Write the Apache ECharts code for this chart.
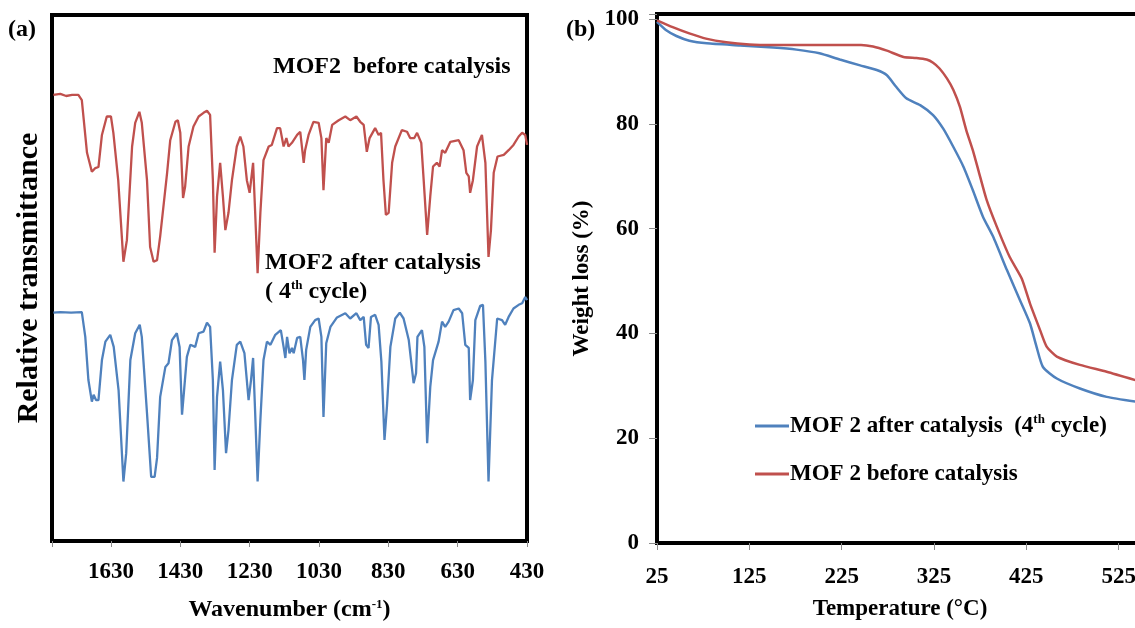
<!DOCTYPE html>
<html>
<head>
<meta charset="utf-8">
<script src="https://cdn.jsdelivr.net/npm/echarts@6/dist/echarts.min.js"></script>
<style>
  html, body { margin: 0; padding: 0; background: #fff; }
  #chart { width: 1135px; height: 628px; }
</style>
</head>
<body>
<div id="chart"></div>
<script>
const FONT = '"Liberation Serif", "Times New Roman", serif';
const RED = '#C0504D';
const BLUE = '#4F81BD';

// (a) FT-IR spectra: wavenumber (cm-1) and relative transmittance (arb. units)
const irWavenumberBefore = [1796,1776,1759,1742,1724,1719,1714,1699,1685,1675,1666,1656,1642,1630,1623,1609,1594,1584,1569,1560,1548,1541,1526,1517,1507,1497,1488,1468,1459,1444,1437,1430,1422,1416,1406,1392,1377,1363,1353,1344,1336,1331,1324,1315,1307,1300,1291,1281,1267,1257,1248,1238,1230,1220,1214,1207,1199,1190,1175,1166,1151,1142,1132,1124,1118,1108,1093,1084,1074,1070,1060,1046,1031,1023,1017,1009,1002,992,973,954,940,922,911,901,892,884,868,858,851,844,837,829,819,810,791,776,767,755,747,735,728,718,709,701,690,682,675,666,651,627,613,605,598,594,586,574,560,550,541,534,526,515,497,483,469,454,444,435,430];
const irTransBefore = [84.8,85.0,84.6,84.8,84.8,85.0,83.8,73.8,70.2,70.9,71.1,77.2,80.7,80.7,77.6,68.6,53.1,57.2,75.0,79.5,81.6,79.5,68.6,55.9,53.1,53.4,57.9,70.0,76.2,79.7,80.0,77.6,65.2,67.4,75.0,78.8,80.7,81.4,81.8,81.0,68.6,54.8,65.5,71.9,65.5,59.1,62.4,68.6,75.0,76.9,75.0,68.6,66.2,71.9,62.4,50.9,62.4,72.4,75.0,75.3,78.5,78.5,75.0,76.6,75.0,75.7,77.2,77.8,71.9,74.3,77.2,79.7,79.5,76.6,66.7,76.6,75.7,79.1,80.0,80.7,80.0,80.7,79.7,79.1,74.0,76.6,78.5,77.2,77.6,68.6,62.0,62.4,71.9,75.0,78.1,77.8,76.6,76.6,77.6,75.7,68.6,58.2,65.5,71.2,71.9,71.2,74.3,73.8,75.9,76.2,74.3,70.0,69.3,66.2,68.6,75.0,77.2,71.9,54.0,59.1,70.0,73.1,73.4,74.3,75.3,76.9,77.6,77.2,75.3];

const irWavenumberAfter = [1796,1776,1745,1714,1704,1695,1685,1680,1673,1666,1656,1646,1632,1622,1608,1594,1586,1574,1560,1547,1541,1526,1514,1504,1497,1488,1473,1464,1454,1440,1432,1425,1419,1411,1401,1387,1377,1363,1353,1344,1336,1331,1324,1315,1307,1298,1291,1281,1267,1257,1245,1233,1226,1220,1214,1207,1199,1190,1180,1170,1156,1140,1132,1127,1122,1115,1108,1103,1093,1084,1076,1072,1067,1055,1041,1031,1023,1017,1009,997,978,954,940,922,911,901,894,887,880,868,858,850,841,834,824,810,797,786,771,757,750,746,733,726,718,709,701,685,675,666,656,642,627,617,608,598,594,586,579,565,557,550,541,531,516,502,493,483,469,454,444,435,430];
const irTransAfter = [43.4,43.5,43.4,43.5,38.8,30.6,26.5,27.8,26.8,26.8,34.4,37.9,39.2,36.9,28.7,11.3,16.7,34.4,39.5,41.1,38.8,24.3,12.2,12.2,15.8,27.4,33.1,33.8,38.2,39.5,36.9,24.0,28.7,35.0,37.3,36.9,39.5,39.8,41.5,40.7,30.6,13.5,27.4,34.1,28.7,16.7,21.1,30.6,37.3,37.9,35.7,26.8,30.6,34.8,24.3,11.3,23.0,34.4,37.9,37.3,39.2,40.1,36.9,34.8,38.8,35.7,36.7,35.7,38.6,38.8,34.4,30.6,36.3,40.7,42.0,42.3,38.8,23.6,37.6,40.7,42.5,43.3,42.3,43.3,42.0,42.6,37.3,36.7,42.6,43.0,41.1,34.1,19.2,25.5,36.9,42.3,43.4,42.3,38.2,30.0,31.9,38.8,40.1,36.9,18.6,29.3,34.4,37.9,41.7,40.7,41.7,43.9,44.2,43.3,37.3,36.7,26.8,30.6,42.0,44.7,44.9,34.1,11.3,30.6,42.3,42.0,41.1,42.6,44.2,44.9,45.2,46.4,45.8];

// (b) TGA curves: temperature (°C) and remaining weight (%)
const tgaTempBefore = [25,42,60,78,100,125,151,187,223,246,259,274,292,306,317,324,331,339,346,353,360,367,373,382,393,407,420,429,440,447,458,483,512,543];
const tgaWeightBefore = [99.8,98.5,97.3,96.3,95.6,95.2,95.1,95.1,95.1,95.1,94.8,94.0,92.8,92.6,92.3,91.7,90.6,88.7,86.5,83.3,78.8,75.0,71.2,65.5,60.4,54.6,50.5,45.7,40.6,37.5,35.6,34.0,32.7,31.1];
const tgaTempAfter = [25,35,46,60,79,115,151,176,201,223,245,263,274,284,295,310,324,335,346,357,367,378,389,404,418,429,436,443,458,483,512,543];
const tgaWeightAfter = [99.5,97.9,96.8,95.9,95.4,95.0,94.6,94.2,93.5,92.3,91.2,90.3,89.3,87.1,84.9,83.6,81.7,79.1,75.6,71.8,67.4,62.3,58.5,52.1,46.4,41.9,37.5,33.6,31.4,29.5,27.9,27.0];

// Axis ranges and tick steps; ticks count from the range start
const IR_RANGE = [430, 1800];
const IR_STEP = 200;
const TGA_RANGE = [25, 625];
const TGA_STEP = 100;
const WEIGHT_RANGE = [0, 101];
const WEIGHT_STEP = 20;

// Names shown in the TGA legend
const NAME_AFTER = 'MOF 2 after catalysis (4th cycle)';
const NAME_BEFORE = 'MOF 2 before catalysis';

// Both x axes run on an offset scale so that tick marks fall on the labelled values
const irPoints = (wn, tr) => wn.map((w, i) => [w - IR_RANGE[0], tr[i]]);
const tgaPoints = (t, w) => t.map((v, i) => [v - TGA_RANGE[0], w[i]]);

const boldText = { fontFamily: FONT, fontWeight: 'bold', color: '#000' };
const supStyle = { fontFamily: FONT, fontWeight: 'bold', color: '#000', fontSize: 13, verticalAlign: 'top', lineHeight: 24 };
const tickStyle = { lineStyle: { color: '#8c8c8c', width: 1 } };
const labelText = (text, size) => ({ text, fontSize: size, fontWeight: 'bold', fontFamily: FONT, fill: '#000' });

const chart = echarts.init(document.getElementById('chart'), null, { renderer: 'canvas' });

chart.setOption({
  backgroundColor: '#fff',
  animation: false,
  grid: [
    { left: 52, top: 15, width: 475, height: 526, show: true, borderColor: '#000', borderWidth: 4,
      backgroundColor: 'transparent', outerBoundsMode: 'none', containLabel: false },
    // the TGA frame runs on past the right edge of the page
    { left: 657, top: 14, right: -76, height: 529, show: true, borderColor: '#000', borderWidth: 4,
      backgroundColor: 'transparent', outerBoundsMode: 'none', containLabel: false }
  ],
  xAxis: [
    {
      gridIndex: 0, type: 'value', inverse: true,
      min: 0, max: IR_RANGE[1] - IR_RANGE[0], interval: IR_STEP,
      axisLine: { show: false },
      axisTick: Object.assign({ show: true, length: 6 }, tickStyle),
      splitLine: { show: false },
      axisLabel: Object.assign({
        fontSize: 23, margin: 20,
        formatter: v => (v % IR_STEP === 0 ? String(v + IR_RANGE[0]) : '')
      }, boldText),
      name: '{t|Wavenumber (cm}{s|-1}{t|)}',
      nameLocation: 'middle', nameGap: 57,
      nameTextStyle: { rich: { t: Object.assign({ fontSize: 24, lineHeight: 24 }, boldText), s: supStyle } }
    },
    {
      gridIndex: 1, type: 'value',
      min: 0, max: TGA_RANGE[1] - TGA_RANGE[0], interval: TGA_STEP,
      axisLine: { show: false },
      axisTick: Object.assign({ show: true, length: 7 }, tickStyle),
      splitLine: { show: false },
      axisLabel: Object.assign({
        fontSize: 23, margin: 23,
        formatter: v => String(v + TGA_RANGE[0])
      }, boldText),
      name: 'Temperature (°C)',
      nameLocation: 'middle', nameGap: 55,
      nameTextStyle: Object.assign({ fontSize: 23, padding: [0, 68, 0, 0] }, boldText)
    }
  ],
  yAxis: [
    {
      gridIndex: 0, type: 'value', min: 0, max: 100,
      axisLine: { show: false }, axisTick: { show: false },
      axisLabel: { show: false }, splitLine: { show: false },
      name: 'Relative transmittance',
      nameLocation: 'middle', nameGap: 8,
      nameTextStyle: Object.assign({ fontSize: 30 }, boldText)
    },
    {
      gridIndex: 1, type: 'value',
      min: WEIGHT_RANGE[0], max: WEIGHT_RANGE[1], interval: WEIGHT_STEP,
      axisLine: { show: false },
      axisTick: Object.assign({ show: true, length: 8 }, tickStyle),
      splitLine: { show: false },
      axisLabel: Object.assign({
        fontSize: 23, margin: 18,
        formatter: v => (v % WEIGHT_STEP === 0 ? String(v) : '')
      }, boldText),
      name: 'Weight loss (%)',
      nameLocation: 'middle', nameGap: 63,
      nameTextStyle: Object.assign({ fontSize: 23 }, boldText)
    }
  ],
  legend: {
    data: [NAME_AFTER, NAME_BEFORE],
    orient: 'vertical', left: 755, top: 413, padding: 0,
    itemGap: 25, itemWidth: 34, itemHeight: 3, icon: 'rect',
    formatter: name => (name === NAME_AFTER
      ? '{t|MOF 2 after catalysis  (4}{s|th}{t| cycle)}'
      : '{t|MOF 2 before catalysis}'),
    textStyle: {
      padding: [0, 0, 0, -4],
      rich: { t: Object.assign({ fontSize: 23, lineHeight: 26 }, boldText), s: Object.assign({}, supStyle, { lineHeight: 26 }) }
    }
  },
  series: [
    {
      name: 'MOF2 before catalysis', type: 'line', xAxisIndex: 0, yAxisIndex: 0,
      data: irPoints(irWavenumberBefore, irTransBefore),
      symbol: 'none', lineStyle: { color: RED, width: 2.3 }, itemStyle: { color: RED }
    },
    {
      name: 'MOF2 after catalysis (4th cycle)', type: 'line', xAxisIndex: 0, yAxisIndex: 0,
      data: irPoints(irWavenumberAfter, irTransAfter),
      symbol: 'none', lineStyle: { color: BLUE, width: 2.3 }, itemStyle: { color: BLUE }
    },
    {
      name: NAME_AFTER, type: 'line', xAxisIndex: 1, yAxisIndex: 1,
      data: tgaPoints(tgaTempAfter, tgaWeightAfter), smooth: 0.2,
      symbol: 'none', lineStyle: { color: BLUE, width: 2.5 }, itemStyle: { color: BLUE }
    },
    {
      name: NAME_BEFORE, type: 'line', xAxisIndex: 1, yAxisIndex: 1,
      data: tgaPoints(tgaTempBefore, tgaWeightBefore), smooth: 0.2,
      symbol: 'none', lineStyle: { color: RED, width: 2.5 }, itemStyle: { color: RED }
    }
  ],
  graphic: [
    { type: 'text', left: 8, top: 18, style: labelText('(a)', 24) },
    { type: 'text', left: 566, top: 18, style: labelText('(b)', 24) },
    { type: 'text', left: 273, top: 55, style: labelText('MOF2  before catalysis', 24) },
    { type: 'text', left: 265, top: 251, style: labelText('MOF2 after catalysis', 24) },
    {
      type: 'text', left: 265, top: 279,
      style: {
        text: '{t|( 4}{s|th}{t| cycle)}',
        rich: {
          t: { fontSize: 24, fontWeight: 'bold', fontFamily: FONT, fill: '#000', lineHeight: 26 },
          s: { fontSize: 13, fontWeight: 'bold', fontFamily: FONT, fill: '#000', verticalAlign: 'top', lineHeight: 26 }
        }
      }
    }
  ]
});
</script>
</body>
</html>
